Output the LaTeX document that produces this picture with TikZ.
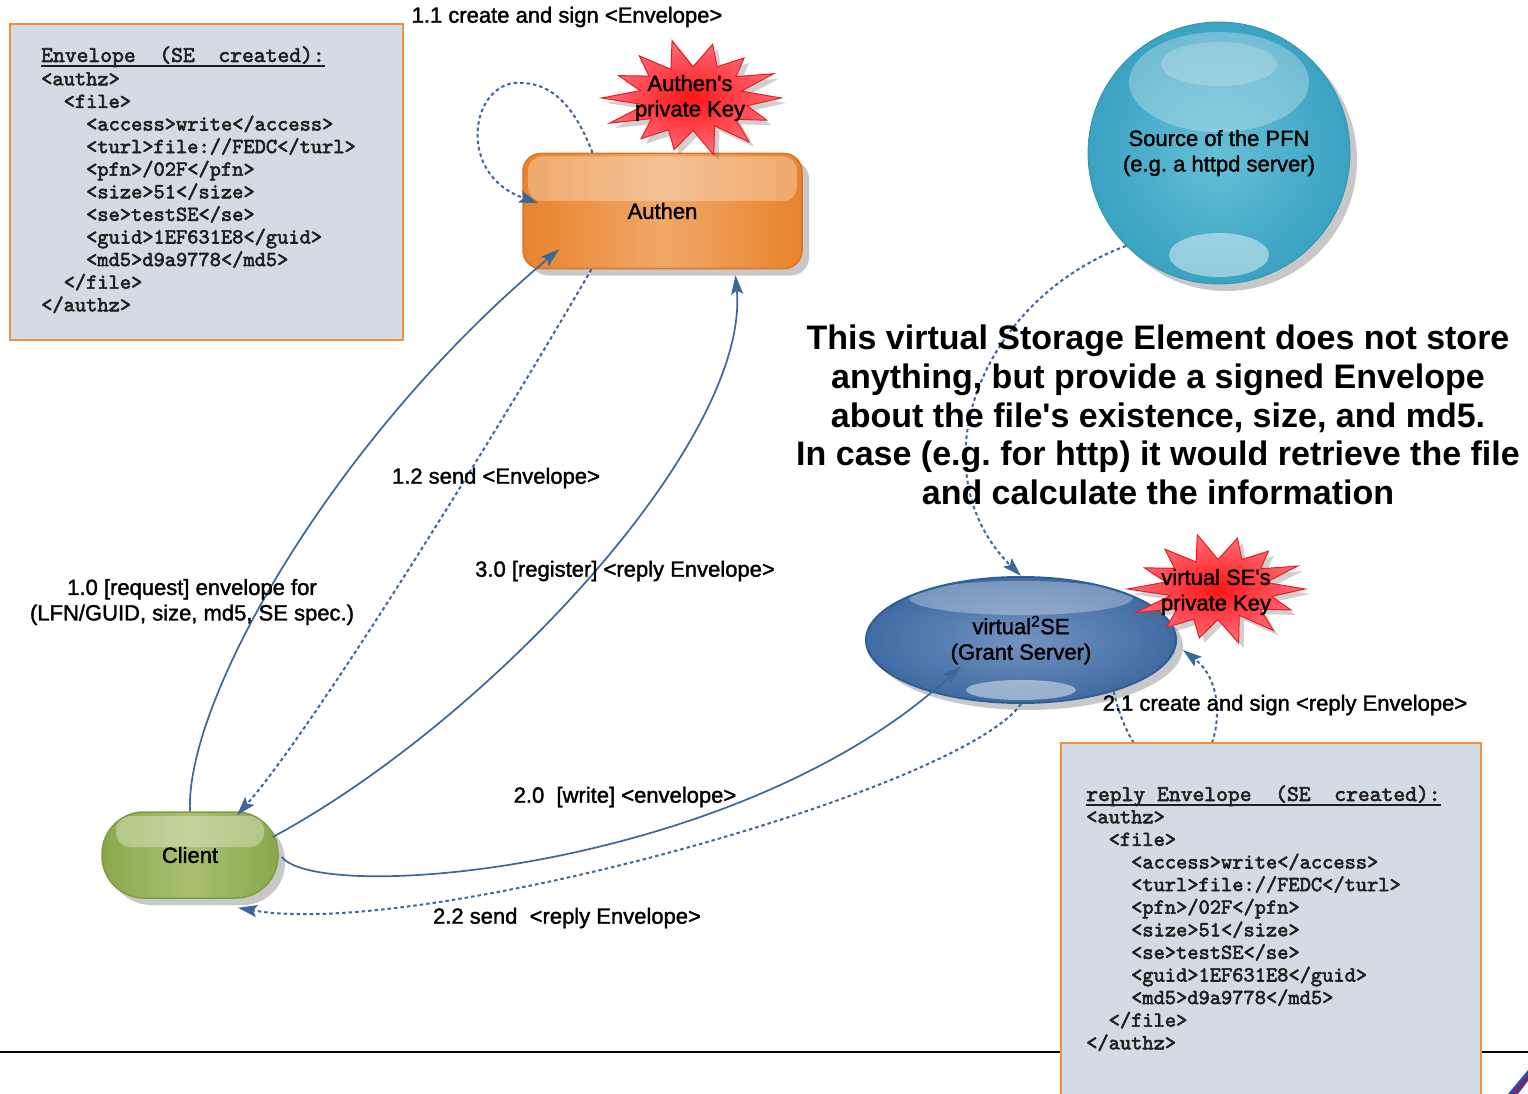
\documentclass[tikz,border=0pt]{standalone}
\usepackage{fontspec}
\setmainfont{Liberation Sans}
\newfontfamily\lblfam{Liberation Sans}[FakeBold=1.6]
\newfontfamily\codefam{lmmono10-regular}[Extension=.otf, FakeBold=2.6]
\usetikzlibrary{arrows.meta,shapes.geometric,shadows,calc}

\definecolor{envfill}{HTML}{D3DBE5}
\definecolor{envedge}{HTML}{F0923C}
\definecolor{flowblue}{HTML}{3D6699}
\definecolor{authbot}{HTML}{E8832C}
\definecolor{authmid}{HTML}{F0A868}
\definecolor{authedge}{HTML}{DC7420}
\definecolor{clbot}{HTML}{8AA84A}
\definecolor{clmid}{HTML}{A9C072}
\definecolor{cledge}{HTML}{7F9C42}
\definecolor{pfnin}{HTML}{66C0D6}
\definecolor{pfnout}{HTML}{3AA2C2}
\definecolor{vsein}{HTML}{7393C0}
\definecolor{vseout}{HTML}{3F6BA2}
\definecolor{vseedge}{HTML}{2F5E94}
\definecolor{starin}{HTML}{FF1414}
\definecolor{starout}{HTML}{FF6E7C}
\definecolor{staredge}{HTML}{E81C1C}

\newcommand{\lblfont}{\lblfam\fontsize{22}{25.5}\selectfont}
\newcommand{\notefont}{\fontsize{34}{38.8}\selectfont\bfseries}
\newcommand{\codefont}{\codefam\fontsize{21.4}{22.6}\selectfont}
\newcommand{\codetitlefont}{\codefam\fontsize{22.5}{24}\selectfont}
\newcommand{\ind}[1]{\hphantom{#1}}
% spiky burst: centre x, centre y, radius x, radius y
\newcommand{\burst}[4]{%
  \path[draw=staredge, line width=1pt, inner color=starin, outer color=starout,
        drop shadow={shadow xshift=5pt,shadow yshift=-5pt,opacity=.3,fill=black!60}]
    plot[samples at={0,...,27}]
      ({#1+#3*(1-0.4*mod(\x,2))*(1+0.07*sin(\x*131))*cos(\x*360/28)},
       {#2+#4*(1-0.4*mod(\x,2))*(1+0.07*sin(\x*131))*sin(\x*360/28)}) -- cycle;}

\begin{document}
\frenchspacing
\begin{tikzpicture}[x=1pt,y=-1pt,
  softshadow/.style={drop shadow={shadow xshift=7pt,shadow yshift=-7pt,opacity=.3,fill=black!70}},
  lbl/.style={font=\lblfont, text=black, align=center, inner sep=1pt},
  solidflow/.style={draw=flowblue, line width=1.7pt, -{Stealth[length=19pt,width=12pt,inset=3.5pt]}},
  dotflow/.style={solidflow, line width=2pt, dash pattern=on 3.5pt off 3pt},
  codebox/.style={rectangle, draw=envedge, line width=1.8pt, fill=envfill, anchor=north west, inner sep=0pt},
  code/.style={font=\codefont, text=black!88, align=left, anchor=north west, inner sep=0pt},
  codetitle/.style={font=\codetitlefont, text=black!88, anchor=base west, inner sep=0pt},
  authbox/.style={rectangle, rounded corners=18pt, minimum width=279pt, minimum height=115pt,
    draw=authedge, line width=1.5pt, left color=authbot, right color=authbot, middle color=authmid,
    softshadow, font=\lblfont,
    path picture={\fill[white, opacity=.3, rounded corners=14pt]
      ([xshift=5pt,yshift=-3pt]path picture bounding box.north west) rectangle
      ([xshift=-5pt,yshift=10pt]path picture bounding box.east);}},
  clientbox/.style={rectangle, rounded corners=42pt, minimum width=176pt, minimum height=86pt,
    draw=cledge, line width=1.5pt, left color=clbot, right color=clbot, middle color=clmid,
    softshadow, font=\lblfont,
    path picture={\fill[white, opacity=.32, rounded corners=14pt]
      ([xshift=14pt,yshift=-4pt]path picture bounding box.north west) rectangle
      ([xshift=-14pt,yshift=8pt]path picture bounding box.east);}},
  pfnball/.style={circle, minimum size=262pt, inner sep=0pt, draw=pfnout!90!black, line width=.8pt,
    inner color=pfnin, outer color=pfnout, softshadow, font=\lblfont, align=center,
    path picture={
      \fill[white, opacity=.28] ([yshift=-60pt]path picture bounding box.north)
        ellipse [x radius=90pt, y radius=50pt];
      \fill[white, opacity=.2] ([yshift=-42pt]path picture bounding box.north)
        ellipse [x radius=58pt, y radius=22pt];
      \fill[white, opacity=.45] ([yshift=29pt]path picture bounding box.south)
        ellipse [x radius=50pt, y radius=22pt];}},
  vseball/.style={ellipse, minimum width=310pt, minimum height=126pt, inner sep=0pt,
    draw=vseedge, line width=2pt, inner color=vsein, outer color=vseout,
    softshadow, font=\lblfont, align=center,
    path picture={
      \fill[white, opacity=.3] ([yshift=-21pt]path picture bounding box.north)
        ellipse [x radius=112pt, y radius=17pt];
      \fill[white, opacity=.45] ([yshift=13pt]path picture bounding box.south)
        ellipse [x radius=55pt, y radius=10pt];}}
]
\fill[white] (0,0) rectangle (1528,1094);
\useasboundingbox (0,0) rectangle (1528,1094);
\clip (0,0) rectangle (1528,1094);

% footer rule
\draw[black, line width=2.5pt] (0,1052) -- (1528,1052);

% envelope issued by the SE
\node[codebox, minimum width=393pt, minimum height=316pt] (envbox) at (9,23) {};
\node[codetitle] (envtitle) at (41,62) {Envelope\ \ (SE\ \ created):};
\draw[black!88, line width=1.6pt] ([yshift=-4pt]envtitle.base west) -- ([yshift=-4pt]envtitle.base east);
\node[code] (envbody) at (41,72) {<authz>\\
\ind{xx}<file>\\
\ind{xxxx}<access>write</access>\\
\ind{xxxx}<turl>file://FEDC</turl>\\
\ind{xxxx}<pfn>/02F</pfn>\\
\ind{xxxx}<size>51</size>\\
\ind{xxxx}<se>testSE</se>\\
\ind{xxxx}<guid>1EF631E8</guid>\\
\ind{xxxx}<md5>d9a9778</md5>\\
\ind{xx}</file>\\
</authz>};

% main actors
\node[pfnball] (pfn) at (1219,153) {Source of the PFN\\(e.g. a httpd server)};
\node[authbox] (authen) at (662.5,211) {Authen};
\node[vseball] (vse) at (1021,640) {virtual\textsuperscript{2}SE\\(Grant Server)};
\node[clientbox] (client) at (190,855) {Client};

% private keys
\burst{693}{98}{88}{55}
\node[lbl] (akey) at (690,98) {Authen\textquotesingle s\\private Key};
\burst{1218}{589}{87}{52}
\node[lbl] (vkey) at (1216,592) {virtual SE\textquotesingle s\\private Key};

% message flow
\draw[solidflow] (client.north)
  .. controls ($(client.north)+(-5,-110)$) and ($(authen.south west)+(-190,170)$)
  .. ($(authen.south west)+(37,-20)$);
\draw[dotflow] ($(authen.north)+(-70,0)$)
  .. controls ($(authen.north)+(-90,-52)$) and ($(authen.north)+(-114,-70)$)
  .. ($(authen.north)+(-144,-70)$)
  .. controls ($(authen.north)+(-192,-70)$) and ($(authen.north)+(-207,22)$)
  .. ($(authen.west)+(16,-8)$);
\draw[dotflow] ($(authen.south)+(-71,0)$)
  .. controls (487,449) and (309,734)
  .. ($(client.north)+(47,4)$);
\draw[solidflow] ($(client.east)+(3,2)$)
  .. controls (320,905) and (740,870)
  .. ($(vse.center)+(-60,26)$);
\draw[dotflow] (pfn.-135)
  .. controls (980,300) and (915,470)
  .. (vse.north);
\draw[dotflow] (vse.-29)
  .. controls (1122,730) and (1145,775) .. (1180,775)
  .. controls (1215,775) and (1235,690) .. ($(vse.east)+(6,10)$);
\draw[dotflow] (vse.south)
  .. controls (960,790) and (420,940)
  .. ($(client.south)+(48,9)$);
\draw[solidflow] ($(client.east)+(-6,-18)$)
  .. controls (490,720) and (750,440)
  .. ($(authen.south)+(73,6)$);

% step labels
\node[lbl] (l11) at (567,17) {1.1 create and sign <Envelope>};
\node[lbl] (l12) at (496,478) {1.2 send <Envelope>};
\node[lbl] (l10) at (192,602) {1.0 [request] envelope for\\(LFN/GUID, size, md5, SE spec.)};
\node[lbl] (l30) at (625,571) {3.0 [register] <reply Envelope>};
\node[lbl] (l20) at (625,797) {2.0~~[write] <envelope>};
\node[lbl] (l22) at (567,918) {2.2 send~~<reply Envelope>};
\node[lbl] (l21) at (1285,705) {2.1 create and sign <reply Envelope>};

% explanatory note
\node[font=\notefont, text=black, align=center, inner sep=0pt] (note) at (1158,415)
  {This virtual Storage Element does not store\\
   anything, but provide a signed Envelope\\
   about the file\textquotesingle s existence, size, and md5.\\
   In case (e.g. for http) it would retrieve the file\\
   and calculate the information};

% reply envelope
\node[codebox, minimum width=420pt, minimum height=380pt] (replybox) at (1060,742) {};
\node[codetitle] (reptitle) at (1086,801) {reply Envelope\ \ (SE\ \ created):};
\draw[black!88, line width=1.6pt] ([yshift=-4pt]reptitle.base west) -- ([yshift=-4pt]reptitle.base east);
\node[code] (repbody) at (1086,810) {<authz>\\
\ind{xx}<file>\\
\ind{xxxx}<access>write</access>\\
\ind{xxxx}<turl>file://FEDC</turl>\\
\ind{xxxx}<pfn>/02F</pfn>\\
\ind{xxxx}<size>51</size>\\
\ind{xxxx}<se>testSE</se>\\
\ind{xxxx}<guid>1EF631E8</guid>\\
\ind{xxxx}<md5>d9a9778</md5>\\
\ind{xx}</file>\\
</authz>};

% corner emblem
\fill[flowblue!70!blue] (1508,1094) -- (1528,1070) -- (1528,1081) -- (1518,1094) -- cycle;
\draw[red!85!black, line width=1.5pt] (1514,1094) -- (1528,1077);
\end{tikzpicture}
\end{document}
